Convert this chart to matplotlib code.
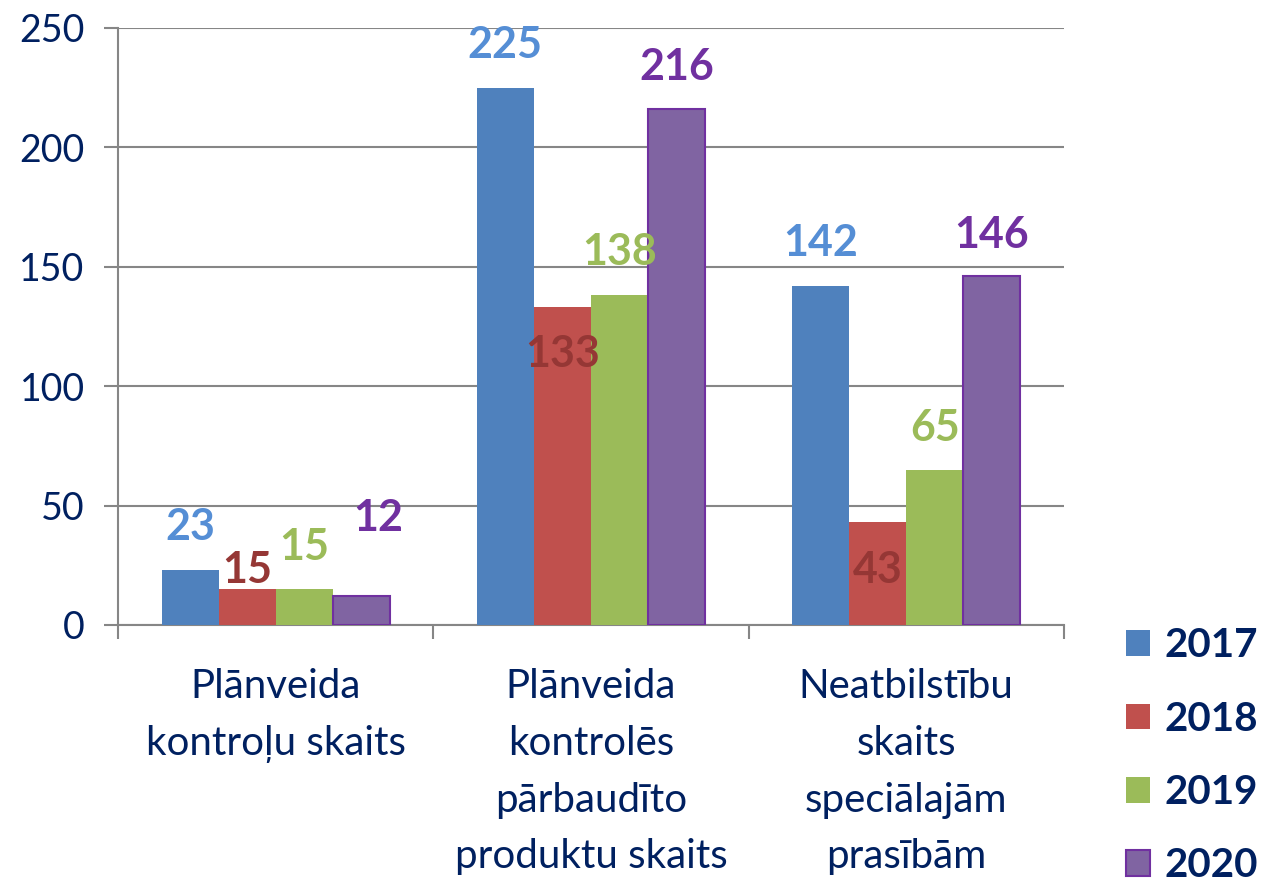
import matplotlib
matplotlib.use("Agg")
import matplotlib.pyplot as plt
import numpy as np

plt.rcParams["font.family"] = ["Lato", "DejaVu Sans"]

categories = [
    "Plānveida\nkontroļu skaits",
    "Plānveida\nkontrolēs\npārbaudīto\nproduktu skaits",
    "Neatbilstību\nskaits\nspeciālajām\nprasībām",
]
years = ["2017", "2018", "2019", "2020"]
values = {
    "2017": [23, 225, 142],
    "2018": [15, 133, 43],
    "2019": [15, 138, 65],
    "2020": [12, 216, 146],
}
bar_colors = ["#4F81BD", "#C0504D", "#9BBB59", "#8064A2"]
edge_colors = ["#4F81BD", "#C0504D", "#9BBB59", "#7030A0"]
label_colors = ["#558ED5", "#953735", "#9BBB59", "#7030A0"]
# label offsets from the bar top in pixels (dx, dy), as placed in the source
label_offsets = {
    "2017": [(0, 43), (0, 43), (0, 43)],
    "2018": [(0, 19), (0, -47), (0, -48)],
    "2019": [(0, 42), (0, 43), (0, 42)],
    "2020": [(17, 78), (0, 42), (0, 41)],
}

navy = "#002060"
grid = "#868686"

fig = plt.figure(figsize=(12.68, 8.85), dpi=100)
ax = fig.add_axes([0.0931, 0.2938, 0.7459, 0.6746])

x = np.arange(len(categories))
width = 0.181
for i, yr in enumerate(years):
    pos = x + (i - 1.5) * width
    ax.bar(pos, values[yr], width, color=bar_colors[i],
           edgecolor=edge_colors[i], linewidth=1.5 if yr == "2020" else 0,
           label=yr, zorder=3)
    for p, v, (dx, dy) in zip(pos, values[yr], label_offsets[yr]):
        ax.annotate(str(v), (p, v), xytext=(dx, dy), textcoords="offset pixels",
                    ha="center", va="center", fontsize=31, fontweight="bold",
                    color=label_colors[i], zorder=4)

ax.set_xlim(-0.5, len(categories) - 0.5)
ax.set_ylim(0, 250)
ax.set_yticks(range(0, 251, 50))
ax.yaxis.grid(True, color=grid, linewidth=1.5, zorder=0)
ax.tick_params(axis="y", length=10, width=1.5, color=grid, labelsize=27,
               labelcolor=navy, pad=14)

ax.set_xticks(np.arange(-0.5, len(categories), 1.0))
ax.set_xticklabels([])
ax.set_xticks(x, minor=True)
ax.set_xticklabels(categories, minor=True, fontsize=29, color=navy,
                   linespacing=1.66)
ax.tick_params(axis="x", which="major", length=10, width=1.5, color=grid)
ax.tick_params(axis="x", which="minor", length=0, pad=31)

for s in ["top", "right"]:
    ax.spines[s].set_visible(False)
for s in ["left", "bottom"]:
    ax.spines[s].set_color(grid)
    ax.spines[s].set_linewidth(1.5)

leg = fig.legend(loc="upper left", bbox_to_anchor=(0.888, 0.291), frameon=False,
                 prop={"size": 29, "weight": "bold"}, handlelength=0.6,
                 handleheight=0.6, handletextpad=0.35, labelspacing=0.9,
                 borderpad=0, borderaxespad=0)
for t in leg.get_texts():
    t.set_color(navy)

fig.savefig("out.png", dpi=100)
